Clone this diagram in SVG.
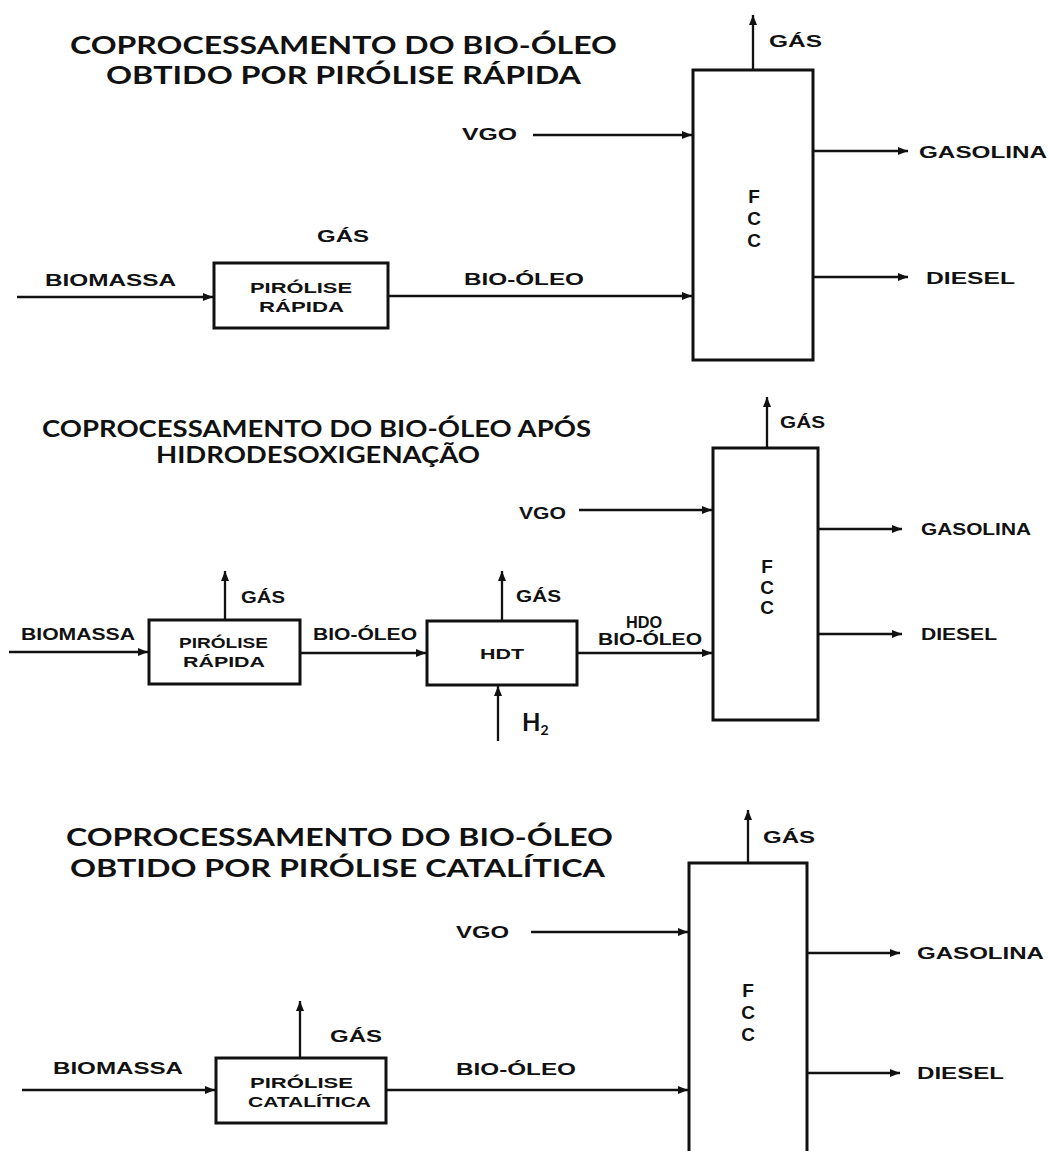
<svg xmlns="http://www.w3.org/2000/svg" width="1049" height="1151" viewBox="0 0 1049 1151">
<defs>
<marker id="ah" markerUnits="userSpaceOnUse" markerWidth="11" markerHeight="9" refX="10" refY="4.5" orient="auto">
<path d="M0,0.5 L10,4.5 L0,8.5 z" fill="#111"/>
</marker>
<style>
.t{font-family:Lato,"Open Sans",sans-serif;font-weight:700;font-size:22px;fill:#111}
.tb{font-size:25px}
.l{font-family:"Liberation Sans",Arial,sans-serif;font-weight:700;font-size:16px;fill:#111}
.b{font-family:"Liberation Sans",Arial,sans-serif;font-weight:700;font-size:15px;fill:#111}
.f{font-family:"Liberation Sans",Arial,sans-serif;font-weight:700;font-size:19px;fill:#111;text-anchor:middle}
.box{fill:#fff;stroke:#111;stroke-width:3}
.c line{stroke:#111;stroke-width:2.3;marker-end:url(#ah)}
</style>
</defs>
<rect width="1049" height="1151" fill="#fff"/>

<!-- Section 1 -->
<g id="title1">
<text class="t tb" x="70" y="54" textLength="547" lengthAdjust="spacingAndGlyphs">COPROCESSAMENTO DO BIO-ÓLEO</text>
<text class="t tb" x="106" y="84" textLength="475" lengthAdjust="spacingAndGlyphs">OBTIDO POR PIRÓLISE RÁPIDA</text>
</g>
<g id="pirolise1">
<rect class="box" x="214" y="263" width="174" height="65"/>
<text class="b" x="250" y="293" textLength="102" lengthAdjust="spacingAndGlyphs">PIRÓLISE</text>
<text class="b" x="259" y="312" textLength="85" lengthAdjust="spacingAndGlyphs">RÁPIDA</text>
</g>
<g id="fcc1">
<rect class="box" x="693" y="70" width="120" height="290"/>
<text class="f" x="754" y="203">F</text>
<text class="f" x="754" y="225">C</text>
<text class="f" x="754" y="247">C</text>
</g>
<g id="labels1">
<text class="l" x="769" y="47" textLength="53" lengthAdjust="spacingAndGlyphs">GÁS</text>
<text class="l" x="462" y="140" textLength="55" lengthAdjust="spacingAndGlyphs">VGO</text>
<text class="l" x="919" y="158" textLength="128" lengthAdjust="spacingAndGlyphs">GASOLINA</text>
<text class="l" x="926" y="284" textLength="89" lengthAdjust="spacingAndGlyphs">DIESEL</text>
<text class="l" x="317" y="242" textLength="52" lengthAdjust="spacingAndGlyphs">GÁS</text>
<text class="l" x="45" y="286" textLength="131" lengthAdjust="spacingAndGlyphs">BIOMASSA</text>
<text class="l" x="464" y="285" textLength="120" lengthAdjust="spacingAndGlyphs">BIO-ÓLEO</text>
</g>

<!-- Section 2 -->
<g id="title2">
<text class="t" x="42" y="437" textLength="549" lengthAdjust="spacingAndGlyphs">COPROCESSAMENTO DO BIO-ÓLEO APÓS</text>
<text class="t" x="156" y="463" textLength="324" lengthAdjust="spacingAndGlyphs">HIDRODESOXIGENAÇÃO</text>
</g>
<g id="pirolise2">
<rect class="box" x="149" y="620" width="151" height="64"/>
<text class="b" x="179" y="648" textLength="89" lengthAdjust="spacingAndGlyphs">PIRÓLISE</text>
<text class="b" x="183" y="667" textLength="82" lengthAdjust="spacingAndGlyphs">RÁPIDA</text>
</g>
<g id="hdt2">
<rect class="box" x="427" y="621" width="150" height="64"/>
<text class="b" x="480" y="659" textLength="44" lengthAdjust="spacingAndGlyphs">HDT</text>
</g>
<g id="fcc2">
<rect class="box" x="713" y="448" width="105" height="272"/>
<text class="f" x="767" y="573">F</text>
<text class="f" x="767" y="594">C</text>
<text class="f" x="767" y="614">C</text>
</g>
<g id="labels2">
<text class="l" x="780" y="428" textLength="45" lengthAdjust="spacingAndGlyphs">GÁS</text>
<text class="l" x="519" y="519" textLength="47" lengthAdjust="spacingAndGlyphs">VGO</text>
<text class="l" x="921" y="535" textLength="110" lengthAdjust="spacingAndGlyphs">GASOLINA</text>
<text class="l" x="921" y="640" textLength="76" lengthAdjust="spacingAndGlyphs">DIESEL</text>
<text class="l" x="21" y="640" textLength="114" lengthAdjust="spacingAndGlyphs">BIOMASSA</text>
<text class="l" x="241" y="603" textLength="44" lengthAdjust="spacingAndGlyphs">GÁS</text>
<text class="l" x="313" y="640" textLength="104" lengthAdjust="spacingAndGlyphs">BIO-ÓLEO</text>
<text class="l" x="516" y="602" textLength="45" lengthAdjust="spacingAndGlyphs">GÁS</text>
<text class="l" x="626" y="628" textLength="36" lengthAdjust="spacingAndGlyphs">HDO</text>
<text class="l" x="598" y="645" textLength="104" lengthAdjust="spacingAndGlyphs">BIO-ÓLEO</text>
<text class="t" x="522" y="731" style="font-size:24px">H<tspan dy="4" style="font-size:14px">2</tspan></text>
</g>

<!-- Section 3 -->
<g id="title3">
<text class="t tb" x="66" y="846" textLength="547" lengthAdjust="spacingAndGlyphs">COPROCESSAMENTO DO BIO-ÓLEO</text>
<text class="t tb" x="70" y="877" textLength="535" lengthAdjust="spacingAndGlyphs">OBTIDO POR PIRÓLISE CATALÍTICA</text>
</g>
<g id="pirolise3">
<rect class="box" x="216" y="1058" width="170" height="65"/>
<text class="b" x="250" y="1088" textLength="103" lengthAdjust="spacingAndGlyphs">PIRÓLISE</text>
<text class="b" x="248" y="1107" textLength="123" lengthAdjust="spacingAndGlyphs">CATALÍTICA</text>
</g>
<g id="fcc3">
<rect class="box" x="689" y="863" width="118" height="300"/>
<text class="f" x="748" y="997">F</text>
<text class="f" x="748" y="1019">C</text>
<text class="f" x="748" y="1041">C</text>
</g>
<g id="labels3">
<text class="l" x="763" y="843" textLength="52" lengthAdjust="spacingAndGlyphs">GÁS</text>
<text class="l" x="456" y="938" textLength="53" lengthAdjust="spacingAndGlyphs">VGO</text>
<text class="l" x="917" y="959" textLength="127" lengthAdjust="spacingAndGlyphs">GASOLINA</text>
<text class="l" x="917" y="1079" textLength="87" lengthAdjust="spacingAndGlyphs">DIESEL</text>
<text class="l" x="330" y="1042" textLength="52" lengthAdjust="spacingAndGlyphs">GÁS</text>
<text class="l" x="53" y="1074" textLength="130" lengthAdjust="spacingAndGlyphs">BIOMASSA</text>
<text class="l" x="456" y="1075" textLength="120" lengthAdjust="spacingAndGlyphs">BIO-ÓLEO</text>
</g>

<g id="connectors" class="c">
<!-- section 1 -->
<line x1="17" y1="297" x2="213" y2="297"/>
<line x1="388" y1="296" x2="692" y2="296"/>
<line x1="533" y1="135" x2="692" y2="135"/>
<line x1="753" y1="70" x2="753" y2="15"/>
<line x1="813" y1="151" x2="908" y2="151"/>
<line x1="813" y1="277" x2="908" y2="277"/>
<!-- section 2 -->
<line x1="9" y1="652" x2="148" y2="652"/>
<line x1="225" y1="620" x2="225" y2="571"/>
<line x1="300" y1="653" x2="426" y2="653"/>
<line x1="502" y1="621" x2="502" y2="571"/>
<line x1="498" y1="741" x2="498" y2="686"/>
<line x1="577" y1="653" x2="712" y2="653"/>
<line x1="579" y1="510" x2="712" y2="510"/>
<line x1="767" y1="448" x2="767" y2="397"/>
<line x1="818" y1="529" x2="902" y2="529"/>
<line x1="818" y1="634" x2="902" y2="634"/>
<!-- section 3 -->
<line x1="22" y1="1090" x2="215" y2="1090"/>
<line x1="300" y1="1058" x2="300" y2="1001"/>
<line x1="386" y1="1090" x2="688" y2="1090"/>
<line x1="531" y1="932" x2="688" y2="932"/>
<line x1="748" y1="863" x2="748" y2="810"/>
<line x1="807" y1="953" x2="900" y2="953"/>
<line x1="807" y1="1073" x2="900" y2="1073"/>
</g>
</svg>
